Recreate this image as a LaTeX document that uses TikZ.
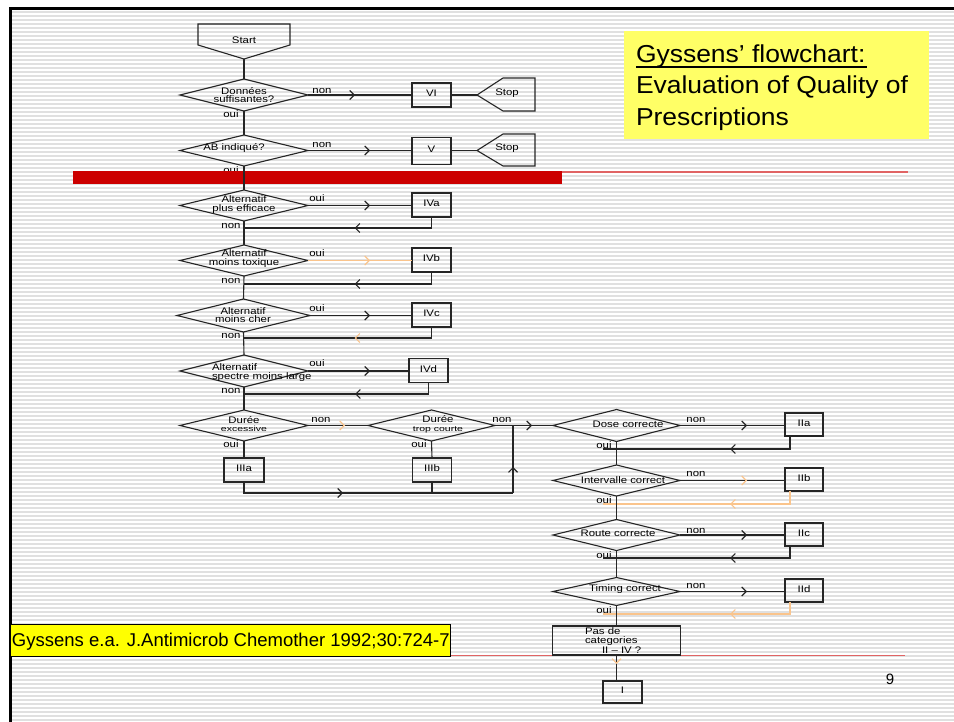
\documentclass[tikz,border=0pt]{standalone}
\usepackage{fontspec}
\setmainfont{Liberation Sans}
\newfontfamily\ff[FakeStretch=1.2]{Liberation Sans}
\newfontfamily\ffs[FakeStretch=1.4]{Liberation Sans}
\newfontfamily\tfont[FakeStretch=1.08]{Liberation Sans}
\usetikzlibrary{shapes.geometric,arrows.meta,decorations.markings,calc}
\definecolor{orl}{RGB}{250,196,140}
\definecolor{redbar}{RGB}{204,0,0}
\definecolor{redthin}{RGB}{224,100,100}
\definecolor{ylw}{RGB}{255,255,102}
\definecolor{ylw2}{RGB}{255,255,0}
\definecolor{stripe}{RGB}{224,224,224}
\begin{document}
\begin{tikzpicture}[x=1pt,y=-1pt,
  every node/.style={inner sep=0pt,outer sep=0pt},
  ln/.style={line width=1.1pt,draw=black!85},
  lno/.style={line width=1.1pt,draw=orl},
  dia/.style={diamond,ln},
  bx/.style={rectangle,ln,minimum width=39pt,minimum height=24pt,font=\ff\fontsize{9.5}{10}\selectfont,text height=6.8pt,text depth=3pt},
  ft/.style={font=\ff\fontsize{9.5}{8.6}\selectfont,align=center},
  lab/.style={font=\ff\fontsize{9.5}{10}\selectfont},
  marr/.style={postaction={decorate},decoration={markings,mark=at position #1 with {\arrow{Straight Barb[length=4.5pt,width=9pt]}}}},
  marro/.style={postaction={decorate},decoration={markings,mark=at position #1 with {\arrow{Straight Barb[length=4.5pt,width=9pt,color=orl]}}}}
]
\useasboundingbox (0,0) rectangle (954,722);
\fill[white] (0,0) rectangle (954,722);
% stripes
\foreach \yy in {12,16,...,720} {\draw[stripe,line width=1.6pt] (11,\yy) -- (954,\yy);}
% frame
\draw[line width=2.5pt,black] (954,8.5) -- (10.5,8.5) -- (10.5,722);

% label partly under red bar
\node[lab] (o2) at (231,170) {oui};
% red bars
\fill[redbar] (73,171) rectangle (562,184);
\draw[redthin,line width=1.5pt] (562,172) -- (908,172);
\draw[redthin,line width=1.5pt] (450,655.5) -- (905,655.5);

% title
\fill[ylw] (624,31) rectangle (929,139);
\node[anchor=base west,font=\tfont\fontsize{24.5}{31}\selectfont] (ti1) at (636,62.7) {Gyssens’ flowchart:};
\draw[line width=1.5pt] (636,67) -- (867,67);
\node[anchor=base west,font=\tfont\fontsize{24.5}{31}\selectfont] (ti2) at (636,94) {Evaluation of Quality of};
\node[anchor=base west,font=\tfont\fontsize{24.5}{31}\selectfont] (ti3) at (636,125.3) {Prescriptions};

% citation
\draw[fill=ylw2,line width=1pt] (10,624) rectangle (450,656);
\node[anchor=base west,font=\fontsize{18.5}{20}\selectfont] (cit) at (12,646) {Gyssens e.a. J.Antimicrob Chemother 1992;30:724-7};
\node[anchor=base,font=\fontsize{15}{16}\selectfont] (pg) at (890,684.5) {9};

% start
\draw[ln] (198,24) -- (290,24) -- (290,45) -- (244,59) -- (198,45) -- cycle;
\node[ft] (start) at (244,40) {Start};
\coordinate (startB) at (244,59);

% d1
\node[dia,minimum width=128pt,minimum height=32pt] (d1) at (244,95) {};
\node[ft] (t1) at (244,95) {Données\\suffisantes?};
\node[bx] (VI) at (431.5,95) {VI};
\coordinate (s1) at (477,95);
\draw[ln] (s1) -- (503,78) -- (535,78) -- (535,111) -- (503,111) -- cycle;
\node[ft] (st1) at (507,93) {Stop};
\node[lab] (n1) at (322,91) {non};
\node[lab] (o1) at (231,114) {oui};
\draw[ln] (startB) -- (d1.north);
\draw[ln,marr=47pt] (d1.east) -- (d1.east -| VI.west);
\draw[ln] (VI.east) -- (s1);

% d2
\node[dia,minimum width=128pt,minimum height=31pt] (d2) at (244,150.5) {};
\node[ft] (t2) at (234,148) {AB indiqué?};
\node[bx,minimum height=27pt] (V) at (431.5,151) {V};
\coordinate (s2) at (477,150.5);
\draw[ln] (s2) -- (503,134) -- (535,134) -- (535,166) -- (503,166) -- cycle;
\node[ft] (st2) at (507,148) {Stop};
\node[lab] (n2) at (322,145) {non};
\draw[ln] (d1.south) -- (d2.north);
\draw[ln,marr=62pt] (d2.east) -- (d2.east -| V.west);
\draw[ln] (V.east |- s2) -- (s2);

% d3
\node[dia,minimum width=128pt,minimum height=31pt] (d3) at (244,205.5) {};
\node[ft] (t3) at (244,204.5) {Alternatif\\plus efficace};
\node[bx] (IVa) at (431.5,205) {IVa};
\node[lab] (o3) at (317,198) {oui};
\node[lab] (n3) at (231,226) {non};
\draw[ln] (d2.south) -- (d3.north);
\draw[ln,marr=62pt] (d3.east) -- (d3.east -| IVa.west);
\coordinate (r3) at (244,228);
\draw[ln,marr=88pt] (IVa.south) |- (r3);

% d4
\node[dia,minimum width=128pt,minimum height=31pt] (d4) at (244,260.5) {};
\node[ft] (t4) at (244,258.5) {Alternatif\\moins toxique};
\node[bx] (IVb) at (431.5,260) {IVb};
\node[lab] (o4) at (317,253) {oui};
\node[lab] (n4) at (231,281) {non};
\draw[ln] (d3.south) -- (d4.north);
\draw[lno,marro=62pt] (d4.east) -- (d4.east -| IVb.west);
\coordinate (r4) at (244,284);
\draw[ln,marr=89pt] (IVb.south) |- (r4);

% d5
\node[dia,minimum width=133pt,minimum height=33pt] (d5) at (243.5,315.5) {};
\node[ft] (t5) at (243,315) {Alternatif\\moins cher};
\node[bx] (IVc) at (431.5,315) {IVc};
\node[lab] (o5) at (317,308) {oui};
\node[lab] (n5) at (231,336) {non};
\draw[ln] (d4.south) -- (d5.north);
\draw[ln,marr=60pt] (d5.east) -- (d5.east -| IVc.west);
\coordinate (r5) at (244,338);
\draw[ln,marro=88pt] (IVc.south) |- (r5);

% d6
\node[dia,minimum width=128pt,minimum height=32pt] (d6) at (244,371) {};
\node[ft,align=left,anchor=west] (t6) at (212,372.5) {Alternatif\\spectre moins large};
\node[bx] (IVd) at (428.5,370.5) {IVd};
\node[lab] (o6) at (317,363) {oui};
\node[lab] (n6) at (231,391) {non};
\draw[ln] (d5.south) -- (d6.north);
\draw[ln,marr=62pt] (d6.east) -- (d6.east -| IVd.west);
\coordinate (r6) at (244,394);
\draw[ln,marr=85pt] (IVd.south) |- (r6);

% d7, d8
\node[dia,minimum width=128pt,minimum height=31pt] (d7) at (244,425.5) {};
\node[ft] (t7) at (244,424) {Durée\\{\ffs\fontsize{7.5}{8}\selectfont excessive}};
\node[dia,minimum width=127pt,minimum height=31pt] (d8) at (431.5,425.5) {};
\node[ft] (t8) at (438,424) {Durée\\{\ffs\fontsize{7.5}{8}\selectfont trop courte}};
\node[lab] (n7) at (321,420) {non};
\node[lab] (n8) at (502,420) {non};
\node[lab] (o7) at (231,444) {oui};
\node[lab] (o8) at (419,444) {oui};
\node[bx,minimum width=40pt] (IIIa) at (244,470) {IIIa};
\node[bx] (IIIb) at (432,470) {IIIb};
\draw[ln] (d6.south) -- (d7.north);
\draw[ln,marro=37pt] (d7.east) -- (d8.west);
\draw[ln] (d7.south) -- (IIIa.north);
\draw[ln] (d8.south) -- (IIIb.north);
\coordinate (j1) at (513,493);
\coordinate (j2) at (513,425.5);
\draw[ln,marr=110pt] (IIIa.south) |- (j1);
\draw[ln] (IIIb.south) -- (IIIb.south |- j1);
\draw[ln,marr=26pt] (j1) -- (j2);

% d9
\node[dia,minimum width=127pt,minimum height=32pt] (d9) at (616.5,425.5) {};
\node[ft] (t9) at (628,424) {Dose correcte};
\node[bx,minimum width=38pt,minimum height=23pt] (IIa) at (804,424.5) {IIa};
\node[lab] (n9) at (696,420) {non};
\node[lab] (o9) at (604,445) {oui};
\draw[ln,marr=37pt] (d8.east) -- (d9.west);
\draw[ln,marr=67pt] (d9.east) -- (d9.east -| IIa.west);
\coordinate (r9) at (603,449);
\draw[ln,marr=73pt] ([xshift=5pt]IIa.south west) |- (r9);

% d10
\node[dia,minimum width=127pt,minimum height=31pt] (d10) at (616.5,480.5) {};
\node[ft] (t10) at (623,480) {Intervalle correct};
\node[bx,minimum width=38pt,minimum height=23pt] (IIb) at (804,479.5) {IIb};
\node[lab] (n10) at (696,474) {non};
\node[lab] (o10) at (604,500) {oui};
\draw[ln] (d9.south) -- (d10.north);
\draw[ln,marro=67pt] (d10.east) -- (d10.east -| IIb.west);
\coordinate (r10) at (603,504);
\draw[lno,marro=73pt] ([xshift=5pt]IIb.south west) |- (r10);

% d11
\node[dia,minimum width=127pt,minimum height=31pt] (d11) at (616.5,535) {};
\node[ft] (t11) at (618,533) {Route correcte};
\node[bx,minimum width=38pt,minimum height=23pt] (IIc) at (804,534.5) {IIc};
\node[lab] (n11) at (696,531) {non};
\node[lab] (o11) at (604,555) {oui};
\draw[ln] (d10.south) -- (d11.north);
\draw[ln,marr=67pt] (d11.east) -- (d11.east -| IIc.west);
\coordinate (r11) at (603,558);
\draw[ln,marr=72pt] ([xshift=5pt]IIc.south west) |- (r11);

% d12
\node[dia,minimum width=127pt,minimum height=28pt] (d12) at (616.5,591.5) {};
\node[ft] (t12) at (625,589) {Timing correct};
\node[bx,minimum width=38pt,minimum height=23pt] (IId) at (804,590.5) {IId};
\node[lab] (n12) at (696,586) {non};
\node[lab] (o12) at (604,610) {oui};
\draw[ln] (d11.south) -- (d12.north);
\draw[ln,marr=67pt] (d12.east) -- (d12.east -| IId.west);
\coordinate (r12) at (603,614);
\draw[lno,marro=72pt] ([xshift=5pt]IId.south west) |- (r12);

% final
\node[rectangle,ln,minimum width=128pt,minimum height=29pt] (pas) at (616.5,640.5) {};
\node[ft,align=left,anchor=west,font=\ff\fontsize{9.5}{9.3}\selectfont] (tpas) at (585,640.5) {Pas de\\categories\\\hspace*{17pt}II – IV ?};
\node[bx,minimum height=22pt] (I) at (622.5,692) {I};
\draw[ln] (d12.south) -- (pas.north);
\draw[ln,marro=9pt] (pas.south) -- (pas.south |- I.north);
\end{tikzpicture}
\end{document}
